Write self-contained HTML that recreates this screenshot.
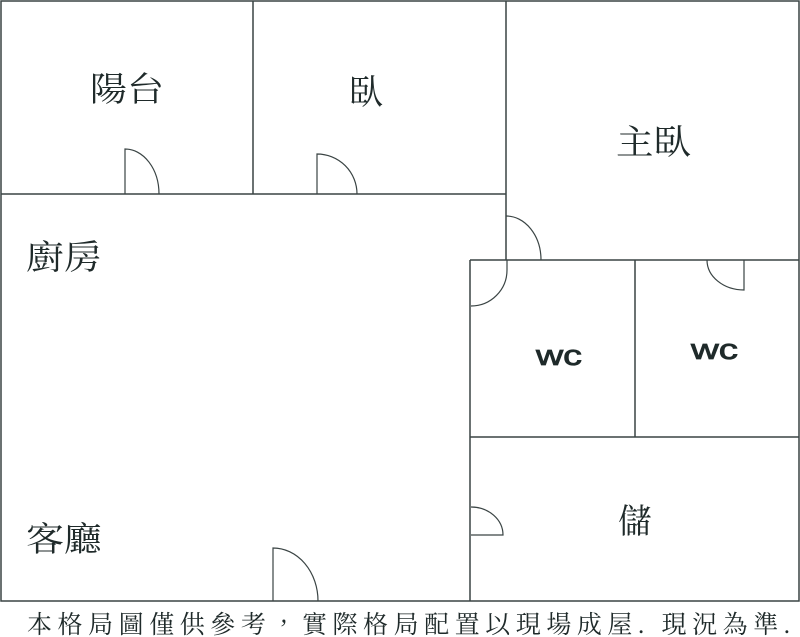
<!DOCTYPE html>
<html><head><meta charset="utf-8"><style>
html,body{margin:0;padding:0;background:#fff;}
svg{display:block;}
text{font-family:"Liberation Serif","Noto Serif CJK TC","Noto Serif CJK SC",serif;fill:#1f2a2a;}
.wc{font-family:"Liberation Sans","DejaVu Sans",sans-serif;font-weight:normal;stroke:#1f2a2a;stroke-width:0.8;}
</style></head><body>
<svg width="800" height="637" viewBox="0 0 800 637" xmlns="http://www.w3.org/2000/svg">
<rect width="800" height="637" fill="#fff"/>
<g stroke="#3a4444" stroke-width="1.5" fill="none">
<path d="M1,601 V1 H799 V601 Z"/>
<path d="M1,194 H506"/>
<path d="M253,1 V194"/>
<path d="M506,1 V260"/>
<path d="M470,260 H799"/>
<path d="M470,260 V601"/>
<path d="M635,260 V437"/>
<path d="M470,437 H799"/>
</g>
<g stroke="#3a4444" stroke-width="1.2" fill="none">
<path d="M125,194 V149 A34,45 0 0 1 159,194"/>
<path d="M317,194 V154 A40,40 0 0 1 357,194"/>
<path d="M506,216 A35,44 0 0 1 541,260"/>
<path d="M507,260 V270 A36,36 0 0 1 471,306"/>
<path d="M744,260 V290 A37,30 0 0 1 707,260"/>
<path d="M471,535 H503 A32,28 0 0 0 471,507"/>
<path d="M273,601 V548 A45,53 0 0 1 318,601"/>
</g>
<text x="90" y="101" font-size="34" textLength="74" lengthAdjust="spacingAndGlyphs">陽台</text>
<text x="349" y="104" font-size="34">臥</text>
<text x="616" y="154" font-size="34" textLength="75" lengthAdjust="spacingAndGlyphs">主臥</text>
<text x="26" y="269" font-size="34" textLength="76" lengthAdjust="spacingAndGlyphs">廚房</text>
<text x="26" y="551" font-size="34" textLength="76" lengthAdjust="spacingAndGlyphs">客廳</text>
<text x="618" y="533" font-size="34">儲</text>
<text class="wc" x="536" y="365" font-size="29" textLength="46" lengthAdjust="spacingAndGlyphs">wc</text>
<text class="wc" x="691" y="359" font-size="29" textLength="47" lengthAdjust="spacingAndGlyphs">wc</text>
<text x="27" y="633" font-size="25" textLength="763" lengthAdjust="spacing">本格局圖僅供參考，實際格局配置以現場成屋. 現況為準.</text>
</svg>
</body></html>
